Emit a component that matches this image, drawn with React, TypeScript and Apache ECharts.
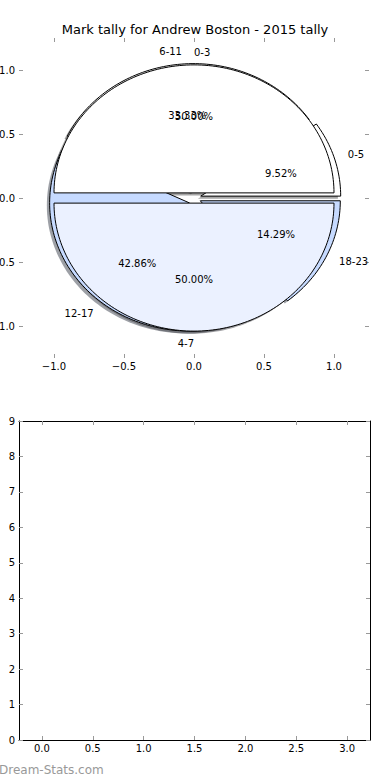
import React, { useEffect, useRef } from "react";
import * as echarts from "echarts";

const titleText = "Mark tally for Andrew Boston - 2015 tally";
const outerLabels = ["0-5", "6-11", "12-17", "18-23"];
const outerValues = [2, 7, 9, 3];
const innerLabels = ["0-3", "4-7"];
const innerValues = [1, 1];
const pieTicks = [-1, -0.5, 0, 0.5, 1];
const barXTicks = [0, 0.5, 1, 1.5, 2, 2.5, 3];
const watermark = "Dream-Stats.com";

const outerColors = ["#ffffff", "#ffffff", "#c6daff", "#c6daff"];
const innerColors = ["#ffffff", "#ebf1ff"];
const outerExplode = 0.05;
const innerExplode = 0.04;

type Wedge = {
  cx: number;
  cy: number;
  t1: number;
  t2: number;
  color: string;
};
type Txt = { x: number; y: number; text: string; align: string };

function buildPie(values: number[], labels: string[], colors: string[], explode: number) {
  const total = values.reduce((a, b) => a + b, 0);
  const wedges: Wedge[] = [];
  const texts: Txt[] = [];
  let theta1 = 0;
  values.forEach((v, i) => {
    const theta2 = theta1 + v / total;
    const thetam = Math.PI * (theta1 + theta2);
    const cx = explode * Math.cos(thetam);
    const cy = explode * Math.sin(thetam);
    wedges.push({ cx, cy, t1: theta1, t2: theta2, color: colors[i % colors.length] });
    const lx = cx + 1.1 * Math.cos(thetam);
    const ly = cy + 1.1 * Math.sin(thetam);
    texts.push({ x: lx, y: ly, text: labels[i], align: lx > 0 ? "left" : "right" });
    texts.push({
      x: cx + 0.6 * Math.cos(thetam),
      y: cy + 0.6 * Math.sin(thetam),
      text: ((v / total) * 100).toFixed(2) + "%",
      align: "center",
    });
    theta1 = theta2;
  });
  return { wedges, texts };
}

function shadowColor(c: string) {
  const r = parseInt(c.slice(1, 3), 16);
  const g = parseInt(c.slice(3, 5), 16);
  const b = parseInt(c.slice(5, 7), 16);
  return `rgba(${Math.round(r * 0.3)},${Math.round(g * 0.3)},${Math.round(b * 0.3)},0.5)`;
}

const fmt1 = (v: number) => v.toFixed(1).replace("-", "\u2212");

export default function App() {
  const ref = useRef<HTMLDivElement>(null);
  useEffect(() => {
    if (!ref.current) return;
    const chart = echarts.init(ref.current, undefined, { renderer: "svg" });
    const outer = buildPie(outerValues, outerLabels, outerColors, outerExplode);
    const inner = buildPie(innerValues, innerLabels, innerColors, innerExplode);
    const allWedges = [...outer.wedges, ...inner.wedges];
    const allTexts = [...outer.texts, ...inner.texts];

    const wedgeRender = (list: Wedge[], shadow: boolean) => (params: any, api: any) => {
      const w = list[params.dataIndex];
      const o = shadow ? -0.02 : 0;
      const pts: number[][] = [api.coord([w.cx + o, w.cy + o])];
      const a1 = w.t1 * 2 * Math.PI;
      const a2 = w.t2 * 2 * Math.PI;
      const n = Math.max(4, Math.ceil((a2 - a1) / (Math.PI / 120)));
      for (let k = 0; k <= n; k++) {
        const a = a1 + ((a2 - a1) * k) / n;
        pts.push(api.coord([w.cx + o + Math.cos(a), w.cy + o + Math.sin(a)]));
      }
      return {
        type: "polygon",
        shape: { points: pts },
        style: shadow
          ? { fill: shadowColor(w.color), stroke: "none" }
          : { fill: w.color, stroke: "#000", lineWidth: 1 },
      };
    };

    const textRender = (params: any, api: any) => {
      const t = allTexts[params.dataIndex];
      const p = api.coord([t.x, t.y]);
      return {
        type: "text",
        x: p[0],
        y: p[1],
        style: {
          text: t.text,
          fill: "#000",
          fontSize: 10,
          fontFamily: "DejaVu Sans",
          align: t.align,
          verticalAlign: "middle",
        },
      };
    };

    const tick = (vals?: number[]) => ({
      show: true,
      inside: true,
      length: 4,
      lineStyle: { color: "#999", width: 1 },
      ...(vals ? { customValues: vals } : {}),
    });
    const font = { fontSize: 10, fontFamily: "DejaVu Sans", color: "#000" };
    const frame = { show: true, onZero: false, lineStyle: { color: "#000", width: 1 } };
    const noLine = { show: false, onZero: false };

    chart.setOption({
      animation: false,
      backgroundColor: "#fff",
      title: {
        text: titleText,
        left: "center",
        top: 23,
        padding: 0,
        textStyle: { fontSize: 13, fontWeight: "normal", fontFamily: "DejaVu Sans", color: "#000" },
      },
      grid: [
        { left: 19, top: 38, width: 350, height: 320, outerBoundsMode: "none", containLabel: false },
        { left: 19, top: 421, width: 351, height: 319, outerBoundsMode: "none", containLabel: false },
      ],
      xAxis: [
        {
          gridIndex: 0, type: "value", min: -1.25, max: 1.25, position: "bottom",
          axisLine: noLine, splitLine: { show: false },
          axisTick: tick(pieTicks),
          axisLabel: { ...font, margin: 3, customValues: pieTicks, formatter: fmt1 },
        },
        {
          gridIndex: 0, type: "value", min: -1.25, max: 1.25, position: "top",
          axisLine: noLine, splitLine: { show: false },
          axisTick: tick(pieTicks), axisLabel: { show: false },
        },
        {
          gridIndex: 1, type: "value", min: -0.225, max: 3.225, position: "bottom",
          axisLine: frame, splitLine: { show: false },
          axisTick: tick(barXTicks),
          axisLabel: { ...font, margin: 3, customValues: barXTicks, formatter: fmt1 },
        },
        {
          gridIndex: 1, type: "value", min: -0.225, max: 3.225, position: "top",
          axisLine: frame, splitLine: { show: false },
          axisTick: tick(barXTicks), axisLabel: { show: false },
        },
      ],
      yAxis: [
        {
          gridIndex: 0, type: "value", min: -1.25, max: 1.25, position: "left",
          axisLine: noLine, splitLine: { show: false },
          axisTick: tick(pieTicks),
          axisLabel: { ...font, margin: 4, customValues: pieTicks, formatter: fmt1 },
        },
        {
          gridIndex: 0, type: "value", min: -1.25, max: 1.25, position: "right",
          axisLine: noLine, splitLine: { show: false },
          axisTick: tick(pieTicks), axisLabel: { show: false },
        },
        {
          gridIndex: 1, type: "value", min: 0, max: 9, interval: 1, position: "left",
          axisLine: frame, splitLine: { show: false },
          axisTick: tick(), axisLabel: { ...font, margin: 4 },
        },
        {
          gridIndex: 1, type: "value", min: 0, max: 9, interval: 1, position: "right",
          axisLine: frame, splitLine: { show: false },
          axisTick: tick(), axisLabel: { show: false },
        },
      ],
      series: [
        {
          type: "custom", name: "shadows", xAxisIndex: 0, yAxisIndex: 0, z: 1, silent: true,
          data: allWedges.map((w) => [w.cx, w.cy]),
          renderItem: wedgeRender(allWedges, true),
        },
        {
          type: "custom", name: "outer", xAxisIndex: 0, yAxisIndex: 0, z: 2, silent: true,
          data: outer.wedges.map((w) => [w.cx, w.cy]),
          renderItem: wedgeRender(outer.wedges, false),
        },
        {
          type: "custom", name: "inner", xAxisIndex: 0, yAxisIndex: 0, z: 3, silent: true,
          data: inner.wedges.map((w) => [w.cx, w.cy]),
          renderItem: wedgeRender(inner.wedges, false),
        },
        {
          type: "custom", name: "labels", xAxisIndex: 0, yAxisIndex: 0, z: 4, silent: true,
          data: allTexts.map((t) => [t.x, t.y]),
          renderItem: textRender,
        },
        { type: "line", xAxisIndex: 2, yAxisIndex: 2, data: [] },
      ],
      graphic: [
        {
          type: "text",
          x: -1,
          y: 770,
          style: {
            text: watermark,
            fill: "#999",
            fontSize: 12,
            fontFamily: "DejaVu Sans",
            verticalAlign: "middle",
          },
        },
      ],
    });
    return () => chart.dispose();
  }, []);
  return (
    <div
      ref={ref}
      style={{ position: "absolute", left: 0, top: 0, width: 390, height: 780, background: "#fff" }}
    />
  );
}
